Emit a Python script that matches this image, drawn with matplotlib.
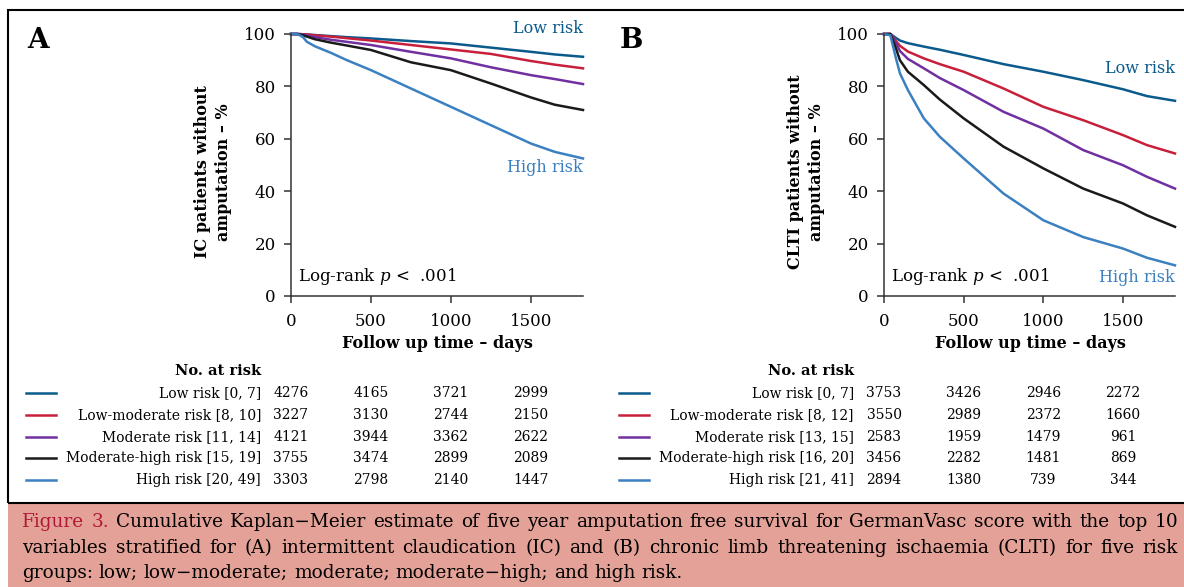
import matplotlib
matplotlib.use('Agg')
import matplotlib.pyplot as plt
from matplotlib import transforms
from matplotlib.patches import Rectangle
from matplotlib.lines import Line2D

plt.rcParams['font.family'] = 'DejaVu Serif'
plt.rcParams['mathtext.fontset'] = 'dejavuserif'

days = [0, 40, 75, 100, 150, 250, 350, 500, 750, 1000, 1250, 1500, 1650, 1826]

# (A) intermittent claudication, % without amputation
ic_low = [100, 100, 99.9, 99.8, 99.6, 99.2, 98.8, 98.3, 97.3, 96.4, 94.8, 93.2, 92.2, 91.3]
ic_lowmod = [100, 100, 99.9, 99.8, 99.5, 99.0, 98.4, 97.5, 95.8, 94.1, 92.4, 89.7, 88.3, 86.9]
ic_mod = [100, 100, 99.8, 99.4, 98.8, 97.8, 97.0, 95.8, 93.2, 90.7, 87.3, 84.3, 82.8, 80.9]
ic_modhigh = [100, 100, 99.5, 99.0, 98.0, 96.7, 95.6, 93.9, 89.2, 86.2, 81.1, 75.8, 73.0, 71.0]
ic_high = [100, 100, 98.8, 97.0, 95.3, 92.8, 90.0, 86.2, 79.2, 72.2, 65.2, 58.2, 55.0, 52.5]

# (B) chronic limb threatening ischaemia
clti_low = [100, 100, 98.5, 97.5, 96.5, 95.2, 94.0, 92.0, 88.5, 85.6, 82.4, 78.9, 76.3, 74.5]
clti_lowmod = [100, 100, 97.3, 95.5, 93.3, 90.7, 88.5, 85.6, 79.2, 72.2, 67.1, 61.4, 57.6, 54.4]
clti_mod = [100, 100, 96.5, 93.5, 90.5, 86.9, 83.2, 78.6, 70.3, 63.9, 55.7, 49.9, 45.5, 41.0]
clti_modhigh = [100, 100, 94.5, 90.0, 85.6, 80.5, 75.0, 67.8, 57.0, 48.7, 41.0, 35.3, 30.8, 26.4]
clti_high = [100, 99.5, 90.7, 85.0, 78.6, 67.8, 60.8, 52.5, 39.1, 28.9, 22.5, 18.1, 14.6, 11.7]

groups = ['Low risk', 'Low-moderate risk', 'Moderate risk', 'Moderate-high risk', 'High risk']
ic_ranges = ['[0, 7]', '[8, 10]', '[11, 14]', '[15, 19]', '[20, 49]']
clti_ranges = ['[0, 7]', '[8, 12]', '[13, 15]', '[16, 20]', '[21, 41]']

risk_days = [0, 500, 1000, 1500]
ic_at_risk = [[4276, 4165, 3721, 2999],
              [3227, 3130, 2744, 2150],
              [4121, 3944, 3362, 2622],
              [3755, 3474, 2899, 2089],
              [3303, 2798, 2140, 1447]]
clti_at_risk = [[3753, 3426, 2946, 2272],
                [3550, 2989, 2372, 1660],
                [2583, 1959, 1479, 961],
                [3456, 2282, 1481, 869],
                [2894, 1380, 739, 344]]

colors = ['#0b5a8c', '#c8203a', '#7030a0', '#1a1a1a', '#3b80c0']

W, H = 1184, 587
fig = plt.figure(figsize=(W / 100, H / 100), dpi=100)


def fx(px):
    return px / W


def fy(py):
    return 1 - py / H


# frame and caption box
fig.patches.append(Rectangle((fx(8), 0), 1, fy(503), transform=fig.transFigure,
                             facecolor='#e4a197', edgecolor='none', zorder=0))
fig.patches.append(Rectangle((fx(8), fy(503)), 1.1, fy(10) - fy(503), transform=fig.transFigure,
                             fill=False, edgecolor='black', lw=1.5, zorder=1))


def panel(left, right, letter, ylab, curves, ranges, at_risk, low_y, high_y):
    ax = fig.add_axes([fx(left), fy(296), (right - left) / W, (296 - 34) / H])
    for vals, c in zip(curves, colors):
        ax.plot(days, vals, color=c, lw=1.8, clip_on=False, solid_joinstyle='round')
    ax.set_xlim(0, 1826)
    ax.set_ylim(0, 100)
    ax.set_xticks([0, 500, 1000, 1500])
    ax.set_yticks(range(0, 101, 20))
    for s in ['top', 'right']:
        ax.spines[s].set_visible(False)
    for s in ['left', 'bottom']:
        ax.spines[s].set_color('#333333')
        ax.spines[s].set_linewidth(1.1)
    ax.tick_params(direction='out', length=5, width=1.1, color='#333333', labelsize=12)
    ax.tick_params(axis='x', pad=7)
    ax.tick_params(axis='y', pad=6)

    ax.text(1826, low_y, 'Low risk', color=colors[0], fontsize=11.5, ha='right', va='center')
    ax.text(1826, high_y, 'High risk', color=colors[4], fontsize=11.5, ha='right', va='center')
    ax.text(0.025, 0.075, 'Log-rank $p$ <  .001', transform=ax.transAxes, fontsize=12,
            ha='left', va='center')

    fig.text(fx(left - 253), fy(40), letter, fontsize=20, fontweight='bold', ha='center', va='center')
    fig.text(fx(left - 78), fy(172), ylab, fontsize=11.5, fontweight='bold', rotation=90,
             ha='center', va='center', linespacing=1.25)
    fig.text(fx(left + 146), fy(343), 'Follow up time \u2013 days', fontsize=11.5,
             fontweight='bold', ha='center', va='center')

    # number at risk table
    lab_x = left - 30
    fig.text(fx(lab_x), fy(371), 'No. at risk', fontsize=10.5, fontweight='bold', ha='right', va='center')
    tr = transforms.blended_transform_factory(ax.transData, fig.transFigure)
    rows = [393, 415, 437, 458, 480]
    for i, y in enumerate(rows):
        fig.lines.append(Line2D([fx(left - 265), fx(left - 235)], [fy(y), fy(y)],
                                transform=fig.transFigure, color=colors[i], lw=1.8))
        fig.text(fx(lab_x), fy(y), groups[i] + ' ' + ranges[i], fontsize=10, ha='right', va='center')
        for d, n in zip(risk_days, at_risk[i]):
            ax.text(d, fy(y), str(n), transform=tr, fontsize=10, ha='center', va='center')
    return ax


panel(291, 583, 'A', 'IC patients without\namputation \u2013 %',
      [ic_low, ic_lowmod, ic_mod, ic_modhigh, ic_high], ic_ranges, ic_at_risk, 102, 49)
panel(884, 1175, 'B', 'CLTI patients without\namputation \u2013 %',
      [clti_low, clti_lowmod, clti_mod, clti_modhigh, clti_high], clti_ranges, clti_at_risk, 87, 7)

# caption, justified by hand
cap_lines = [
    'Figure 3. Cumulative Kaplan\u2212Meier estimate of five year amputation free survival for GermanVasc score with the top 10',
    'variables stratified for (A) intermittent claudication (IC) and (B) chronic limb threatening ischaemia (CLTI) for five risk',
    'groups: low; low\u2212moderate; moderate; moderate\u2212high; and high risk.',
]
cap_y = [522, 548, 573]
cap_size = 13.3
renderer = fig.canvas.get_renderer()
probe1 = fig.text(0, 0, 'x x', fontsize=cap_size)
probe2 = fig.text(0, 0, 'xx', fontsize=cap_size)
space_w = probe1.get_window_extent(renderer).width - probe2.get_window_extent(renderer).width
probe1.remove()
probe2.remove()

for li, (line, y) in enumerate(zip(cap_lines, cap_y)):
    items = []
    for wi, word in enumerate(line.split(' ')):
        c = '#b01a38' if (li == 0 and wi < 2) else 'black'
        t = fig.text(0, fy(y), word, fontsize=cap_size, color=c, ha='left', va='center')
        items.append((t, t.get_window_extent(renderer).width))
    total = sum(w for _, w in items)
    if li < 2:
        gap = (1178 - 22 - total) / (len(items) - 1)
    else:
        gap = space_w
    x = 22
    for t, w in items:
        t.set_x(fx(x))
        x += w + gap

fig.savefig('out.png', dpi=100)
